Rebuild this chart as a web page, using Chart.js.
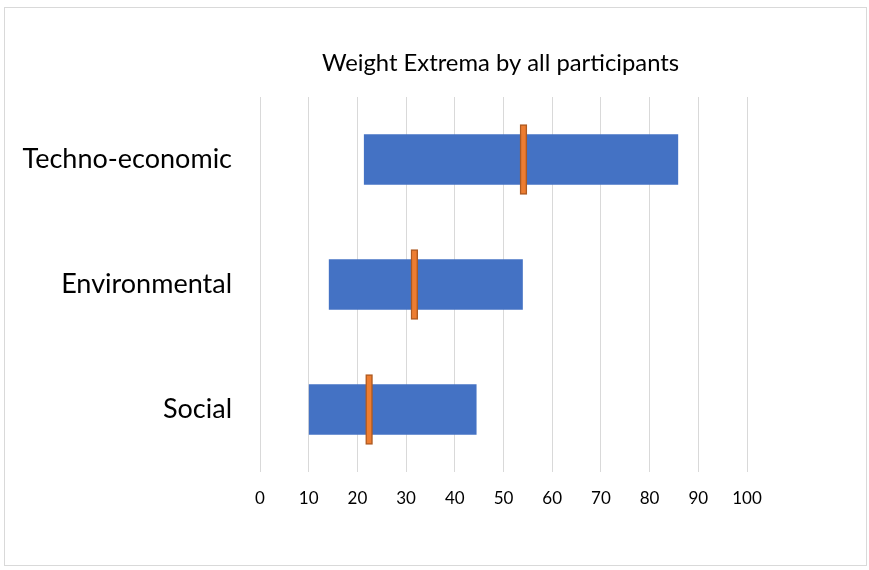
<!DOCTYPE html>
<html>
<head>
<meta charset="utf-8">
<script src="https://cdn.jsdelivr.net/npm/chart.js@4/dist/chart.umd.min.js"></script>
<style>
  body { margin: 0; background: #fff; }
  #grafico { display: block; }
</style>
</head>
<body>
<canvas id="grafico" width="869" height="570"></canvas>
<script>
const categorias = ['Techno-economic', 'Environmental', 'Social'];
const minimos = [21.4, 14.2, 10.1];
const maximos = [85.8, 53.9, 44.4];
const medias = [54.1, 31.7, 22.4];
const ticksX = [0, 10, 20, 30, 40, 50, 60, 70, 80, 90, 100];
const titulo = 'Weight Extrema by all participants';

const fonte = 'Lato, "Liberation Sans", sans-serif';
const meiaLargura = 0.7; // largura do marcador laranja

// moldura cinza e titulo centrado na area do grafico
const moldura = {
    id: 'moldura',
    beforeDraw(chart) {
        const c = chart.ctx;
        c.save();
        c.fillStyle = '#fff';
        c.fillRect(0, 0, chart.width, chart.height);
        c.strokeStyle = '#d9d9d9';
        c.lineWidth = 1;
        c.strokeRect(4.5, 7.5, 862, 558);
        c.restore();
    },
    afterDraw(chart) {
        const a = chart.chartArea;
        const c = chart.ctx;
        c.save();
        c.fillStyle = '#000';
        c.font = '23.8px ' + fonte;
        c.textAlign = 'center';
        c.textBaseline = 'middle';
        c.fillText(titulo, (a.left + a.right) / 2 - 3, 63);
        c.restore();
    }
};

const ctx = document.getElementById('grafico').getContext('2d');

const grafico = new Chart(ctx, {
    type: 'bar',
    data: {
        labels: categorias,
        datasets: [
            {
                label: 'Extremos',
                data: minimos.map((v, i) => [v, maximos[i]]),
                backgroundColor: '#4472C4',
                borderWidth: 0,
                borderSkipped: false,
                barThickness: 50,
                grouped: false,
                order: 2
            },
            {
                label: 'Media',
                data: medias.map(v => [v - meiaLargura, v + meiaLargura]),
                backgroundColor: '#ED7D31',
                borderColor: '#AE5A21',
                borderWidth: 1.5,
                borderSkipped: false,
                barThickness: 70,
                grouped: false,
                order: 1
            }
        ]
    },
    options: {
        indexAxis: 'y',
        responsive: false,
        animation: false,
        layout: {
            padding: { top: 97, right: 122, left: 5, bottom: 0 }
        },
        plugins: {
            legend: { display: false },
            tooltip: { enabled: false }
        },
        scales: {
            x: {
                min: 0,
                max: 100,
                afterBuildTicks: s => { s.ticks = ticksX.map(v => ({ value: v })); },
                afterFit: s => { s.height = 98; },
                grid: { color: '#d9d9d9', lineWidth: 1, drawTicks: false },
                border: { display: false },
                ticks: { color: '#000', padding: 16, font: { family: fonte, size: 17 } }
            },
            y: {
                afterFit: s => { s.width = 255; },
                grid: { display: false },
                border: { display: false },
                ticks: { color: '#000', padding: 20, font: { family: fonte, size: 27 } }
            }
        }
    },
    plugins: [moldura]
});
</script>
</body>
</html>
